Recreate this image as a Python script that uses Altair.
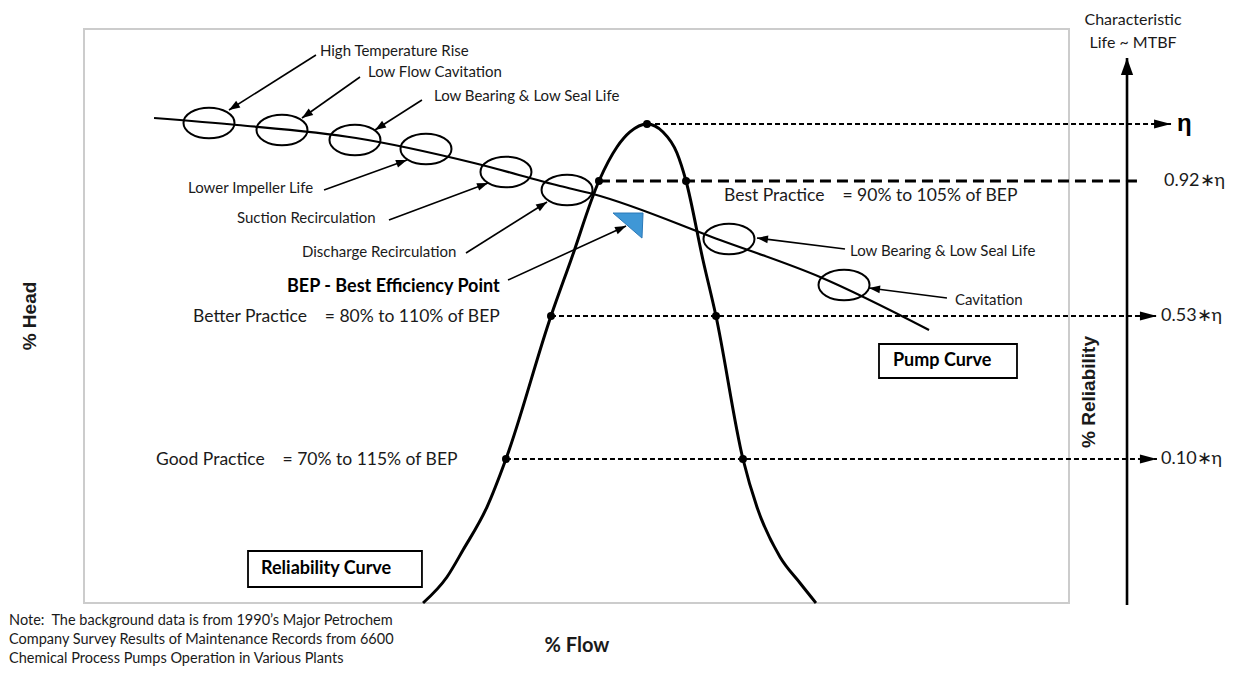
import math
import altair as alt
import pandas as pd

W, H = 985, 574  # size of the framed plot area (px)

# ---------------- data (x = % flow across frame, y = % of frame height) ----------------
rel_flow = [34.42, 36.85, 38.48, 40.91, 42.84, 47.41, 49.44, 52.28, 54.11, 55.43, 57.16,
            58.78, 60.20, 61.12, 62.84, 64.16, 66.90, 68.32, 70.66, 72.69, 74.31]
rel_val = [0.0, 4.53, 9.23, 16.72, 25.09, 50.00, 59.76, 73.52, 79.44, 82.06, 83.45,
           82.06, 78.40, 73.52, 59.76, 50.00, 25.09, 16.72, 8.01, 3.48, 0.0]

pump_flow = [7.11, 15.53, 27.61, 39.59, 48.32, 51.68, 64.57, 74.72, 85.79]
pump_head = [84.49, 83.28, 81.01, 76.66, 72.65, 71.25, 63.24, 56.79, 47.56]

zone_flow = [12.69, 20.10, 27.51, 34.72, 42.84, 49.04, 65.48, 77.16]
zone_head = [83.62, 82.40, 80.66, 79.09, 75.09, 71.95, 63.41, 55.40]

note_names = ["High Temperature Rise", "Low Flow Cavitation", "Low Bearing & Low Seal Life",
              "Lower Impeller Life", "Suction Recirculation", "Discharge Recirculation",
              "BEP", "Low Bearing & Low Seal Life", "Cavitation"]
note_from_x = [23.55, 28.02, 34.31, 24.37, 30.96, 38.78, 43.05, 77.26, 87.61]
note_from_y = [95.47, 91.64, 87.63, 71.95, 66.72, 60.98, 56.27, 61.67, 53.14]
note_to_x = [14.72, 22.13, 29.54, 32.79, 41.02, 47.01, 55.03, 68.32, 79.70]
note_to_y = [85.89, 84.49, 82.40, 77.18, 73.17, 69.86, 65.68, 63.59, 54.88]

label_text = ["High Temperature Rise", "Low Flow Cavitation", "Low Bearing & Low Seal Life",
              "Lower Impeller Life", "Suction Recirculation", "Discharge Recirculation",
              "Low Bearing & Low Seal Life", "Cavitation"]
label_x = [23.95, 28.83, 35.53, 10.56, 15.53, 22.13, 77.77, 88.43]
label_y = [96.17, 92.51, 88.33, 72.30, 67.07, 61.15, 61.32, 52.79]

practice_text = ["Best Practice\u00a0\u00a0\u00a0\u00a0= 90% to 105% of BEP",
                 "Better Practice\u00a0\u00a0\u00a0\u00a0= 80% to 110% of BEP",
                 "Good Practice\u00a0\u00a0\u00a0\u00a0= 70% to 115% of BEP"]
practice_x = [64.97, 11.07, 7.31]
practice_y = [70.91, 49.83, 24.91]

level_text = ["\u03b7", "0.92\u2217\u03b7", "0.53\u2217\u03b7", "0.10\u2217\u03b7"]
level_y = [83.45, 73.52, 50.00, 25.09]
level_left = [57.16, 52.28, 47.41, 42.84]
level_right = [57.16, 61.12, 64.16, 66.90]
level_end = [110.36, 106.90, 108.93, 108.93]
level_label_x = [110.96, 109.64, 109.34, 109.34]

box_text = ["Pump Curve", "Reliability Curve"]
box_x0 = [80.71, 16.65]
box_x1 = [94.72, 34.31]
box_y0 = [45.12, 9.06]
box_y1 = [39.20, 2.79]
box_label_x = [82.13, 17.97]
box_label_y = [42.16, 5.92]

bep_flow, bep_head = [55.43], [65.85]

life_axis_x = 105.89
life_axis_y = [-0.35, 94.95]
life_text = ["Characteristic", "Life ~ MTBF"]
life_text_x = [106.5, 106.5]
life_text_y = [101.57, 97.56]

source_note = ["Note:\u00a0 The background data is from 1990\u2019s Major Petrochem",
               "Company Survey Results of Maintenance Records from 6600",
               "Chemical Process Pumps Operation in Various Plants"]
source_x = [-7.61, -7.61, -7.61]
source_y = [-3.14, -6.45, -9.76]

# ---------------- helpers ----------------
xs = alt.Scale(domain=[0, 100], nice=False, zero=False)
ys = alt.Scale(domain=[0, 100], nice=False, zero=False)


def X(f):
    return alt.X(f"{f}:Q", scale=xs, axis=None)


def Y(f):
    return alt.Y(f"{f}:Q", scale=ys, axis=None)


def screen_angle(x0, y0, x1, y1):
    dx = (x1 - x0) * W / 100.0
    dy = -(y1 - y0) * H / 100.0
    return math.degrees(math.atan2(dx, -dy)) % 360


ARROW = "M 0 0 L -0.36 1 L 0.36 1 Z"
ARROW_THIN = "M 0 0 L -0.27 1 L 0.27 1 Z"
ELLIPSE = ("M -1 0 C -1 -0.3314 -0.5523 -0.6 0 -0.6 C 0.5523 -0.6 1 -0.3314 1 0 "
           "C 1 0.3314 0.5523 0.6 0 0.6 C -0.5523 0.6 -1 0.3314 -1 0 Z")
TRI = "M -1.13 -0.8 L 0.87 -0.8 L 0.8 0.87 Z"

FONT = "Lato"
BOLDFONT = "Liberation Sans"

# ---------------- frames ----------------
df_rel = pd.DataFrame({"x": rel_flow, "y": rel_val})
df_pump = pd.DataFrame({"x": pump_flow, "y": pump_head})
df_zone = pd.DataFrame({"x": zone_flow, "y": zone_head})
df_note = pd.DataFrame({"x0": note_from_x, "y0": note_from_y, "x1": note_to_x, "y1": note_to_y})
df_note["angle"] = [screen_angle(a, b, c, d) for a, b, c, d in
                    zip(note_from_x, note_from_y, note_to_x, note_to_y)]
df_lab = pd.DataFrame({"x": label_x, "y": label_y, "t": label_text})
df_prac = pd.DataFrame({"x": practice_x, "y": practice_y, "t": practice_text})
df_lev = pd.DataFrame({"x0": level_left, "x1": level_end, "y": level_y, "t": level_text,
                       "lx": level_label_x})
df_lev_thin = df_lev.iloc[[0, 2, 3]]
df_lev_thick = df_lev.iloc[[1]]
df_lev_head = df_lev_thin.assign(angle=90.0)
df_dots = pd.DataFrame({"x": level_left + level_right[1:], "y": level_y + level_y[1:]})
df_box = pd.DataFrame({"x0": box_x0, "x1": box_x1, "y0": box_y0, "y1": box_y1,
                       "t": box_text, "lx": box_label_x, "ly": box_label_y})
df_bep = pd.DataFrame({"x": bep_flow, "y": bep_head})
df_axis = pd.DataFrame({"x": [life_axis_x], "y0": [life_axis_y[0]], "y1": [life_axis_y[1]]})
df_axis_head = pd.DataFrame({"x": [life_axis_x], "y": [life_axis_y[1]], "angle": [0.0]})
df_life = pd.DataFrame({"x": life_text_x, "y": life_text_y, "t": life_text})
df_src = pd.DataFrame({"x": source_x, "y": source_y, "t": source_note})
df_titles = pd.DataFrame({"x": [-5.48, 102.03], "y": [50.0, 36.76], "t": ["% Head", "% Reliability"]})
df_flow = pd.DataFrame({"x": [50.05], "y": [-7.49], "t": ["% Flow"]})

# ---------------- layers ----------------
boxes = alt.Chart(df_box).mark_rect(fill="white", stroke="black", strokeWidth=1.8).encode(
    x=X("x0"), x2="x1:Q", y=Y("y0"), y2="y1:Q")
box_labels = alt.Chart(df_box).mark_text(font=FONT, fontWeight="bold", fontSize=18, align="left",
                                         baseline="middle", color="black").encode(
    x=X("lx"), y=Y("ly"), text="t:N")

pump = alt.Chart(df_pump).mark_line(color="black", strokeWidth=2.2, interpolate="monotone").encode(
    x=X("x"), y=Y("y"))
rel = alt.Chart(df_rel).mark_line(color="black", strokeWidth=3, interpolate="monotone").encode(
    x=X("x"), y=Y("y"))

zones = alt.Chart(df_zone).mark_point(shape=ELLIPSE, size=2601, filled=False, stroke="black",
                                      strokeWidth=2, opacity=1).encode(x=X("x"), y=Y("y"))

thin = alt.Chart(df_lev_thin).mark_rule(color="black", strokeWidth=2, strokeDash=[5, 3]).encode(
    x=X("x0"), x2="x1:Q", y=Y("y"))
thick = alt.Chart(df_lev_thick).mark_rule(color="black", strokeWidth=3, strokeDash=[11, 6]).encode(
    x=X("x0"), x2="x1:Q", y=Y("y"))
lev_heads = alt.Chart(df_lev_head).mark_point(shape=ARROW_THIN, size=1156, filled=True, color="black",
                                              opacity=1).encode(
    x=X("x1"), y=Y("y"), angle=alt.Angle("angle:Q", scale=None))

shafts = alt.Chart(df_note).mark_rule(color="black", strokeWidth=1.6).encode(
    x=X("x0"), y=Y("y0"), x2="x1:Q", y2="y1:Q")
heads = alt.Chart(df_note).mark_point(shape=ARROW, size=484, filled=True, color="black",
                                      opacity=1).encode(
    x=X("x1"), y=Y("y1"), angle=alt.Angle("angle:Q", scale=None))

dots = alt.Chart(df_dots).mark_point(shape="circle", size=64, filled=True, color="black",
                                     opacity=1).encode(x=X("x"), y=Y("y"))

axis_line = alt.Chart(df_axis).mark_rule(color="black", strokeWidth=2.6).encode(
    x=X("x"), y=Y("y0"), y2="y1:Q")
axis_head = alt.Chart(df_axis_head).mark_point(shape=ARROW, size=1156, filled=True, color="black",
                                               opacity=1).encode(
    x=X("x"), y=Y("y"), angle=alt.Angle("angle:Q", scale=None))

bep = alt.Chart(df_bep).mark_point(shape=TRI, size=900, filled=True, color="#3f97d6", stroke="#2a78b8",
                                   strokeWidth=1, opacity=1).encode(x=X("x"), y=Y("y"))

labels = alt.Chart(df_lab).mark_text(font=FONT, fontSize=15, align="left", baseline="middle",
                                     color="#1a1a1a").encode(x=X("x"), y=Y("y"), text="t:N")
practice = alt.Chart(df_prac).mark_text(font=FONT, fontSize=17.5, align="left", baseline="middle",
                                        color="#1a1a1a").encode(x=X("x"), y=Y("y"), text="t:N")
bep_label = alt.Chart(pd.DataFrame({"x": [20.61], "y": [55.05], "t": ["BEP - Best Efficiency Point"]})
                      ).mark_text(font=FONT, fontWeight="bold", fontSize=18, align="left",
                                  baseline="middle", color="black").encode(x=X("x"), y=Y("y"), text="t:N")
lev_labels = alt.Chart(df_lev.iloc[[1, 2, 3]]).mark_text(font=FONT, fontSize=18, align="left",
                                                         baseline="middle", color="#1a1a1a").encode(
    x=X("lx"), y=Y("y"), text="t:N")
eta_label = alt.Chart(df_lev.iloc[[0]]).mark_text(font=BOLDFONT, fontWeight="bold", fontSize=24,
                                                  align="left", baseline="middle", color="black").encode(
    x=X("lx"), y=Y("y"), text="t:N")
life = alt.Chart(df_life).mark_text(font=FONT, fontSize=16, align="center", baseline="middle",
                                    color="#1a1a1a").encode(x=X("x"), y=Y("y"), text="t:N")
src = alt.Chart(df_src).mark_text(font=FONT, fontSize=14.5, align="left", baseline="middle",
                                  color="#1a1a1a").encode(x=X("x"), y=Y("y"), text="t:N")
titles = alt.Chart(df_titles).mark_text(font=BOLDFONT, fontWeight="bold", fontSize=19, angle=270,
                                        align="center", baseline="middle", color="#1a1a1a").encode(
    x=X("x"), y=Y("y"), text="t:N")
flow_title = alt.Chart(df_flow).mark_text(font=FONT, fontWeight="bold", fontSize=20, align="center",
                                          baseline="middle", color="#1a1a1a").encode(
    x=X("x"), y=Y("y"), text="t:N")

chart = alt.layer(
    boxes, pump, rel, zones, thin, thick, lev_heads, shafts, heads, dots, axis_line, axis_head, bep,
    box_labels, labels, practice, bep_label, lev_labels, eta_label, life, src, titles, flow_title
).properties(
    width=W, height=H,
    padding={"left": 76, "top": 21, "right": 164, "bottom": 66},
    autosize=alt.AutoSizeParams(type="none"),
    background="white",
).configure_view(stroke="#cccccc", strokeWidth=2)

chart.save("out.html", embed_options={"renderer": "svg", "actions": False})
